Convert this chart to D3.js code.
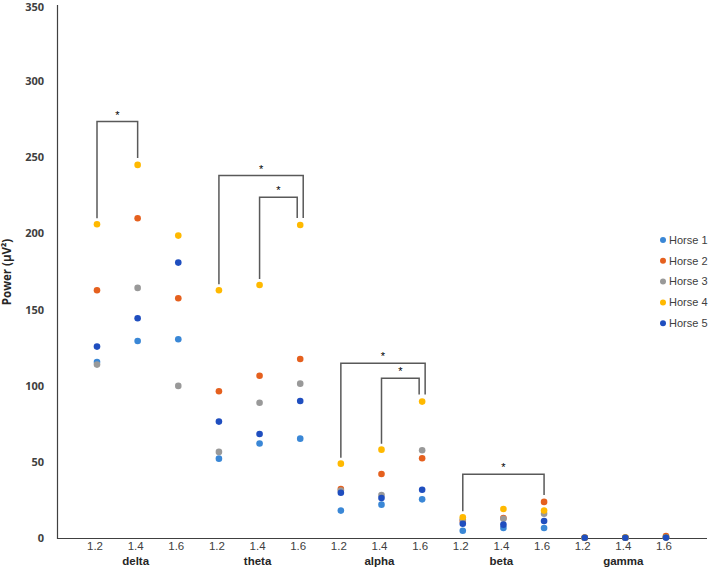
<!DOCTYPE html>
<html>
<head>
<meta charset="utf-8">
<script src="https://cdn.jsdelivr.net/npm/d3@7/dist/d3.min.js"></script>
<style>
  html, body { margin: 0; padding: 0; background: #ffffff; }
  svg { display: block; }
</style>
</head>
<body>
<svg id="chart" width="709" height="567"></svg>
<script>
// ---- data ----
const bands = ["delta", "theta", "alpha", "beta", "gamma"];
const levels = ["1.2", "1.4", "1.6"];
const seriesNames = ["Horse 1", "Horse 2", "Horse 3", "Horse 4", "Horse 5"];
const seriesColors = ["#3a87d6", "#e5601e", "#999999", "#ffb900", "#1f4ebf"];
// values per category (delta 1.2, 1.4, 1.6, theta 1.2 ... gamma 1.6)
const horse1 = [115.8, 129.6, 130.7, 52.4, 62.3, 65.5, 18.3, 22.2, 25.7, 5.1, 6.9, 6.9, 0.5, 0.5, 0.6];
const horse2 = [162.9, 210.1, 157.6, 96.6, 106.8, 117.8, 32.5, 42.3, 52.6, 11.5, 13.4, 24.0, 0.6, 0.7, 1.6];
const horse3 = [114.1, 164.4, 100.1, 56.8, 89.1, 101.6, 31.5, 28.5, 57.9, 12.5, 13.0, 16.3, 0.5, 0.5, 0.8];
const horse4 = [206.2, 245.1, 198.7, 162.9, 166.3, 205.7, 49.1, 58.3, 89.8, 13.9, 19.4, 18.3, 0.5, 0.6, 0.8];
const horse5 = [125.9, 144.5, 181.0, 76.7, 68.6, 90.2, 30.0, 26.6, 32.0, 9.7, 9.1, 11.5, 0.5, 0.5, 0.6];
const yTicks = [0, 50, 100, 150, 200, 250, 300, 350];
// significance brackets: from category index, to category index, bracket height (value)
const bracketFrom = [0, 3, 4, 6, 7, 9];
const bracketTo   = [1, 5, 5, 8, 8, 11];
const bracketTop  = [273.5, 238.1, 223.9, 115.0, 105.1, 42.1];

// ---- build ----
const allSeries = [horse1, horse2, horse3, horse4, horse5];
const categories = [];
bands.forEach(b => levels.forEach(l => categories.push(b + "|" + l)));

const svg = d3.select("#chart");
const x = d3.scalePoint().domain(categories).range([97, 666]);
const y = d3.scaleLinear().domain([0, 350]).range([538.5, 5]);

const textColor = "#404040";

// y axis line
svg.append("line").attr("x1", 57.5).attr("x2", 57.5).attr("y1", 5).attr("y2", 539)
  .attr("stroke", "#404040").attr("stroke-width", 1.2);
// x axis line
svg.append("line").attr("x1", 57).attr("x2", 707).attr("y1", 538.5).attr("y2", 538.5)
  .attr("stroke", "#404040").attr("stroke-width", 1.2);

// y tick labels
svg.append("g").selectAll("text").data(yTicks).join("text")
  .attr("x", 44).attr("y", d => Math.max(y(d), 7)).attr("dy", "0.35em")
  .attr("text-anchor", "end")
  .attr("font-family", "Open Sans, Liberation Sans, sans-serif")
  .attr("font-size", 11).attr("font-weight", "bold")
  .attr("fill", textColor).text(d => d);

// y title
svg.append("text")
  .attr("transform", "translate(11,272) rotate(-90)")
  .attr("text-anchor", "middle")
  .attr("font-family", "Open Sans, Liberation Sans, sans-serif")
  .attr("font-size", 11.5).attr("font-weight", "bold").attr("fill", "#262626")
  .text("Power (µV²)");

// x tick labels
svg.append("g").selectAll("text").data(categories).join("text")
  .attr("x", d => x(d) - 2).attr("y", 550)
  .attr("text-anchor", "middle")
  .attr("font-family", "Liberation Sans, Arial, sans-serif")
  .attr("font-size", 11.5).attr("fill", textColor)
  .text(d => d.split("|")[1]);

// group labels
svg.append("g").selectAll("text").data(bands).join("text")
  .attr("x", b => x(b + "|1.4") - 2).attr("y", 565)
  .attr("text-anchor", "middle")
  .attr("font-family", "Liberation Sans, Arial, sans-serif")
  .attr("font-size", 11.5).attr("font-weight", "bold").attr("fill", "#262626")
  .text(b => b);

// brackets
const catMax = categories.map((c, i) => d3.max(allSeries, s => s[i]));
bracketFrom.forEach((f, k) => {
  const t = bracketTo[k];
  // if another bracket shares the same right end, wider one shifts right, narrower left
  const sharing = bracketTo.map((tt, j) => j).filter(j => bracketTo[j] === t && j !== k);
  let nudge = 0;
  if (sharing.length) {
    const other = sharing[0];
    nudge = (t - f) > (t - bracketFrom[other]) ? 3 : -3;
  }
  const x1 = x(categories[f]);
  const x2 = x(categories[t]) + nudge;
  const yt = y(bracketTop[k]);
  const y1 = y(catMax[f]) - 6;
  const y2 = y(catMax[t]) - 7;
  svg.append("path")
    .attr("d", `M${x1},${y1} V${yt} H${x2} V${y2}`)
    .attr("fill", "none").attr("stroke", "#595959").attr("stroke-width", 1.5);
  svg.append("text")
    .attr("x", (x1 + x2) / 2).attr("y", yt - 3)
    .attr("text-anchor", "middle")
    .attr("font-family", "Liberation Sans, Arial, sans-serif")
    .attr("font-size", 11).attr("fill", "#000")
    .text("*");
});

// points
allSeries.forEach((s, si) => {
  svg.append("g").selectAll("circle").data(s).join("circle")
    .attr("cx", (d, i) => x(categories[i]))
    .attr("cy", d => y(d))
    .attr("r", 3.3)
    .attr("fill", seriesColors[si]);
});

// legend
const legend = svg.append("g");
seriesNames.forEach((n, i) => {
  const ly = 240 + i * 20.8;
  legend.append("circle").attr("cx", 663).attr("cy", ly).attr("r", 3).attr("fill", seriesColors[i]);
  legend.append("text").attr("x", 669).attr("y", ly).attr("dy", "0.35em")
    .attr("font-family", "Liberation Sans, Arial, sans-serif")
    .attr("font-size", 11).attr("fill", textColor).text(n);
});
</script>
</body>
</html>
